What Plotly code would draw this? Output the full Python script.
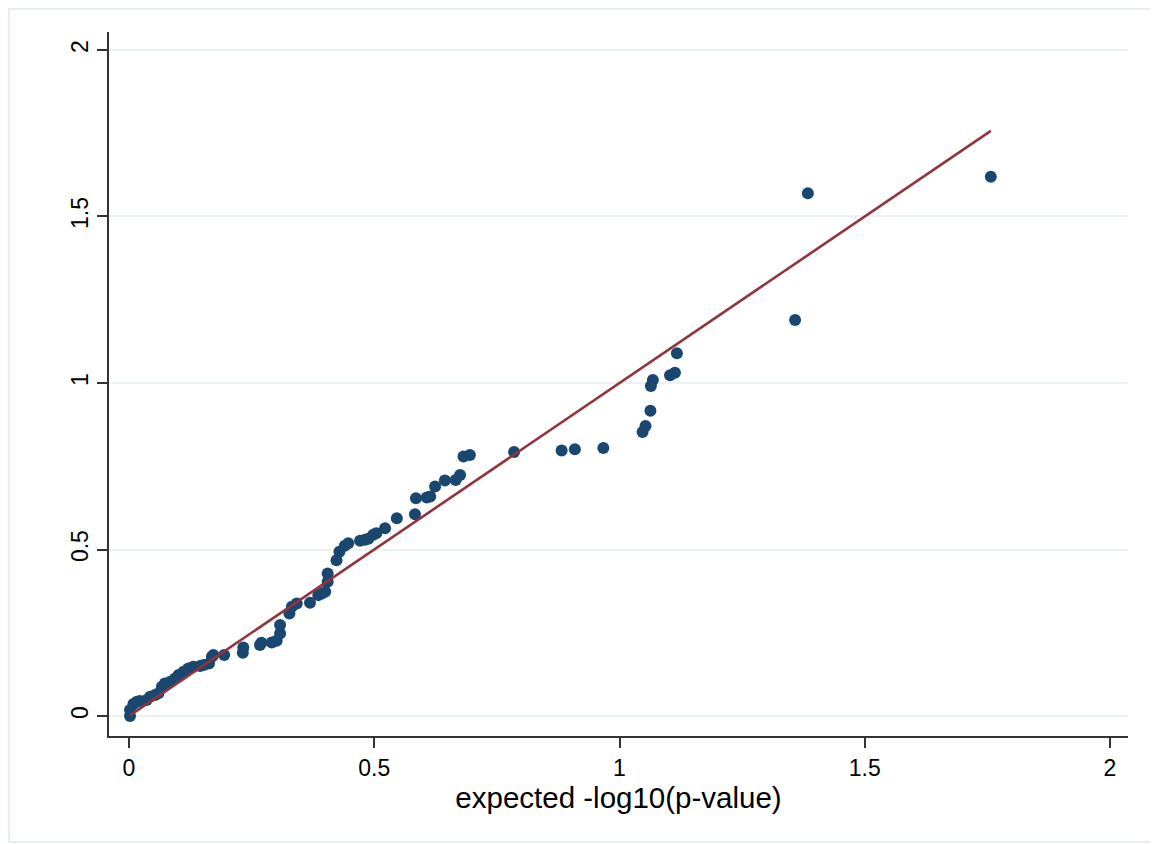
import plotly.graph_objects as go

# expected -log10(p) vs observed -log10(p)
expected = [0.002, 0.002, 0.009, 0.016, 0.022, 0.036, 0.043, 0.053, 0.060, 0.067,
            0.073, 0.084, 0.094, 0.101, 0.111, 0.121, 0.131, 0.145, 0.152, 0.163,
            0.169, 0.172, 0.194, 0.232, 0.233, 0.267, 0.270, 0.291, 0.301, 0.308,
            0.308, 0.327, 0.332, 0.342, 0.369, 0.386, 0.393, 0.400, 0.405, 0.405,
            0.423, 0.429, 0.440, 0.447, 0.471, 0.481, 0.488, 0.498, 0.504, 0.522,
            0.546, 0.583, 0.585, 0.607, 0.614, 0.624, 0.644, 0.666, 0.675, 0.682,
            0.695, 0.785, 0.882, 0.909, 0.967, 1.047, 1.053, 1.063, 1.064, 1.068,
            1.103, 1.113, 1.117, 1.358, 1.384, 1.757]
observed = [0.000, 0.018, 0.036, 0.043, 0.045, 0.048, 0.058, 0.063, 0.068, 0.088,
            0.098, 0.103, 0.113, 0.123, 0.133, 0.143, 0.148, 0.150, 0.153, 0.158,
            0.178, 0.183, 0.183, 0.190, 0.206, 0.213, 0.220, 0.221, 0.226, 0.248,
            0.273, 0.308, 0.328, 0.338, 0.340, 0.363, 0.368, 0.373, 0.403, 0.428,
            0.468, 0.493, 0.511, 0.519, 0.526, 0.529, 0.532, 0.544, 0.549, 0.564,
            0.594, 0.606, 0.654, 0.656, 0.659, 0.689, 0.707, 0.709, 0.724, 0.779,
            0.784, 0.793, 0.797, 0.801, 0.805, 0.853, 0.871, 0.917, 0.991, 1.009,
            1.023, 1.031, 1.089, 1.189, 1.570, 1.619]

tick_vals = [0, 0.5, 1, 1.5, 2]
tick_text = ["0", "0.5", "1", "1.5", "2"]

ref_line = [min(expected), max(expected)]

fig = go.Figure()
fig.add_trace(go.Scatter(
    x=expected, y=observed, mode="markers",
    marker=dict(color="#1a476f", size=12, line=dict(width=0)),
    showlegend=False, hoverinfo="x+y"))
fig.add_trace(go.Scatter(
    x=ref_line, y=ref_line, mode="lines",
    line=dict(color="#90353b", width=2.6),
    showlegend=False, hoverinfo="skip"))

font_family = "Liberation Sans, Arial, sans-serif"

fig.update_layout(
    width=1158, height=844,
    margin=dict(l=101, r=38, t=24, b=116),
    paper_bgcolor="white", plot_bgcolor="white",
    font=dict(family=font_family, color="black", size=22),
    xaxis=dict(
        range=[-0.0408, 2.0367],
        tickvals=tick_vals, ticktext=tick_text,
        ticks="outside", ticklen=10, tickwidth=1.5, tickcolor="#333333",
        showgrid=False, zeroline=False,
        showline=True, linecolor="#333333", linewidth=2,
        tickfont=dict(size=23),
        title=dict(text="expected -log10(p-value)", font=dict(size=29.5), standoff=0),
    ),
    yaxis=dict(
        range=[-0.060, 2.054],
        tickvals=tick_vals, ticktext=tick_text,
        ticks="outside", ticklen=10, tickwidth=1.5, tickcolor="#333333",
        tickangle=-90,
        showgrid=True, gridcolor="#eaf2f3", gridwidth=2,
        zeroline=False,
        showline=True, linecolor="#333333", linewidth=2,
        tickfont=dict(size=23),
    ),
    shapes=[dict(type="rect", xref="paper", yref="paper",
                 x0=-0.0981, x1=1.0275, y0=-0.1506, y1=1.0327,
                 line=dict(color="#e6eef2", width=2), fillcolor="rgba(0,0,0,0)",
                 layer="below")],
)

fig.write_html("out.html")
